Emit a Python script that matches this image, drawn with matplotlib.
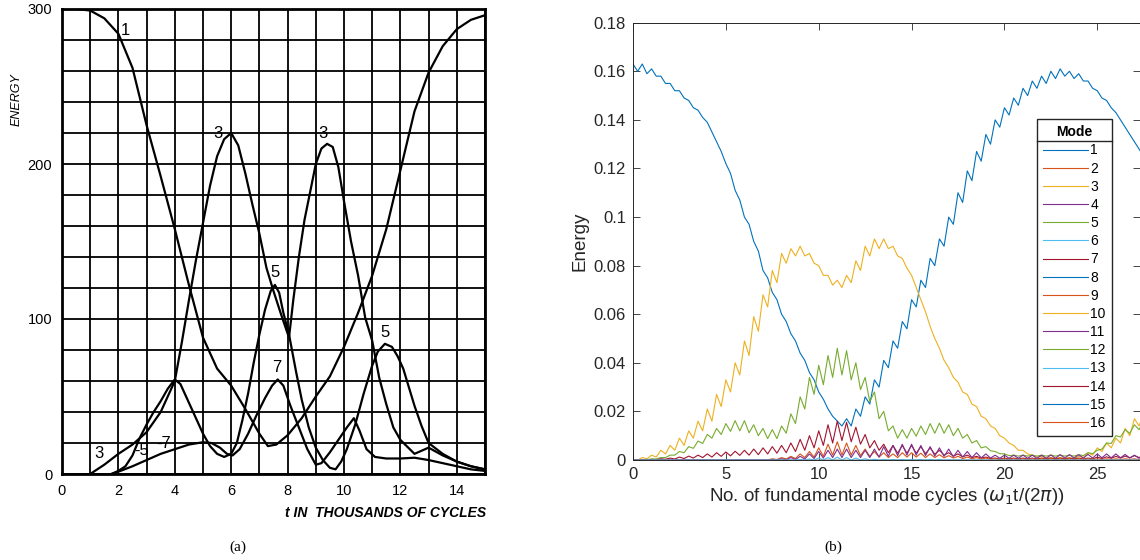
import matplotlib
matplotlib.use('Agg')
import matplotlib.pyplot as plt
from matplotlib.lines import Line2D
from matplotlib.ticker import MultipleLocator, FormatStrFormatter
import numpy as np

plt.rcParams['font.family'] = ['Liberation Sans', 'DejaVu Sans']

# ---------------- panel (a): scanned FPU curves ----------------
mode1_t = [0, 0.5, 1.0, 1.5, 2.0, 2.5, 3.0, 3.5, 4.0, 4.5, 5.0, 5.5, 6.0, 6.5, 7.0, 7.3, 7.6,
           8.0, 8.5, 9.0, 9.5, 10.0, 10.5, 11.0, 11.5, 12.0, 12.5, 13.0, 13.5, 14.0, 14.5, 15.0]
mode1_e = [300, 300, 299, 294, 284, 262, 225, 192, 158, 122, 88, 68, 57, 42, 26, 18, 19,
           25, 36, 50, 63, 82, 104, 128, 158, 196, 234, 259, 276, 287, 293, 296]

mode3_t = [1.0, 1.5, 2.0, 2.5, 2.75, 3.0, 3.5, 4.0, 4.25, 4.5, 4.75, 5.0, 5.25, 5.5, 5.75, 6.0,
           6.25, 6.5, 6.75, 7.0, 7.25, 7.5, 7.75, 8.05, 8.2, 8.4, 8.6, 8.8, 9.0, 9.2, 9.4, 9.6,
           9.8, 10.0, 10.25, 10.5, 10.75, 11.0, 11.25, 11.5, 11.75, 12.0, 12.5, 13.0, 13.5,
           14.0, 14.5, 15.0]
mode3_e = [0, 6, 13, 19, 23, 27, 40, 60, 85, 112, 138, 162, 186, 205, 216, 220,
           212, 194, 174, 155, 133, 118, 104, 88, 112, 140, 164, 182, 200, 210, 213, 211,
           198, 176, 150, 128, 101, 86, 62, 45, 30, 22, 13, 17, 12,
           8, 5, 3]

mode5_t = [1.75, 2.0, 2.25, 2.5, 2.75, 3.0, 3.25, 3.5, 3.75, 4.0, 4.2, 4.5, 4.75, 5.0, 5.25,
           5.5, 5.75, 6.0, 6.2, 6.4, 6.6, 6.8, 7.0, 7.2, 7.4, 7.55, 7.7, 7.85, 8.05, 8.3,
           8.5, 8.75, 9.0, 9.25, 9.5, 9.7, 9.9, 10.1, 10.4, 10.7, 11.0, 11.2, 11.45, 11.7,
           11.9, 12.1, 12.3, 12.5, 12.75, 13.0, 13.5, 14.0, 14.5, 15.0]
mode5_e = [0, 2, 5, 12, 23, 32, 40, 47, 55, 61, 58, 46, 36, 26, 18,
           13, 11, 13, 20, 35, 52, 72, 90, 106, 118, 122, 117, 104, 90, 66,
           48, 30, 17, 9, 4, 3, 8, 16, 32, 52, 70, 79, 84, 82,
           76, 68, 56, 44, 31, 20, 13, 8, 5, 3]

mode7_t = [1.75, 2.0, 2.5, 3.0, 3.5, 4.0, 4.5, 5.0, 5.3, 5.6, 5.85, 6.05, 6.3, 6.6, 6.9, 7.2,
           7.45, 7.65, 7.85, 8.1, 8.4, 8.7, 9.0, 9.2, 9.5, 9.8, 10.1, 10.35, 10.55, 10.8, 11.1,
           11.5, 12.0, 12.5, 13.0, 13.5, 14.0, 14.5, 15.0]
mode7_e = [0, 1.5, 5, 9, 13, 16, 19, 20.5, 20, 17, 13, 12, 16, 26, 38, 49,
           57, 61, 57, 44, 30, 16, 6, 7, 14, 22, 30, 36, 28, 16, 11,
           10, 10, 10.5, 9, 7, 5, 3, 2]

labels_a = [('1', 2.25, 286), ('3', 5.53, 220), ('3', 9.25, 220), ('5', 7.57, 130),
            ('5', 11.47, 91), ('7', 7.63, 69), ('3', 1.31, 13.5), ('-5', 2.82, 15),
            ('-7', 3.6, 19.5)]

# ---------------- panel (b): simulated mode energies ----------------
t_b = np.arange(0, 28, 0.5)
# top and bottom of each wiggly band, read every half cycle
mode1_hi = [0.163, 0.163, 0.161, 0.158, 0.155, 0.152, 0.148, 0.144, 0.139, 0.131, 0.122, 0.111,
            0.100, 0.090, 0.078, 0.069, 0.060, 0.052, 0.044, 0.036, 0.028, 0.021, 0.016, 0.017,
            0.021, 0.026, 0.033, 0.041, 0.049, 0.057, 0.066, 0.074, 0.083, 0.091, 0.100, 0.110,
            0.119, 0.127, 0.134, 0.140, 0.145, 0.149, 0.153, 0.156, 0.158, 0.160, 0.161, 0.160,
            0.159, 0.156, 0.152, 0.148, 0.143, 0.137, 0.131, 0.125]
mode1_lo = [0.160, 0.159, 0.158, 0.155, 0.152, 0.149, 0.145, 0.141, 0.135, 0.127, 0.118, 0.107,
            0.097, 0.086, 0.075, 0.066, 0.057, 0.049, 0.041, 0.033, 0.025, 0.018, 0.014, 0.014,
            0.018, 0.023, 0.030, 0.038, 0.046, 0.054, 0.063, 0.071, 0.080, 0.088, 0.097, 0.106,
            0.115, 0.123, 0.130, 0.137, 0.142, 0.146, 0.150, 0.153, 0.155, 0.157, 0.158, 0.157,
            0.156, 0.153, 0.149, 0.145, 0.140, 0.134, 0.128, 0.122]
mode3_hi = [0.0, 0.001, 0.002, 0.004, 0.006, 0.009, 0.012, 0.016, 0.021, 0.027, 0.033, 0.040,
            0.049, 0.059, 0.068, 0.078, 0.085, 0.087, 0.088, 0.085, 0.080, 0.076, 0.074, 0.076,
            0.082, 0.088, 0.091, 0.091, 0.088, 0.083, 0.076, 0.066, 0.055, 0.046, 0.038, 0.032,
            0.027, 0.022, 0.017, 0.013, 0.009, 0.006, 0.004, 0.002, 0.0015, 0.001, 0.001, 0.001,
            0.0015, 0.003, 0.005, 0.007, 0.009, 0.013, 0.017, 0.019]
mode3_lo = [0.0, 0.0005, 0.0012, 0.0025, 0.004, 0.006, 0.009, 0.012, 0.016, 0.022, 0.028, 0.035,
            0.043, 0.053, 0.063, 0.073, 0.081, 0.084, 0.084, 0.081, 0.076, 0.072, 0.071, 0.073,
            0.078, 0.084, 0.087, 0.087, 0.084, 0.079, 0.071, 0.061, 0.050, 0.041, 0.034, 0.028,
            0.023, 0.018, 0.014, 0.010, 0.007, 0.004, 0.0025, 0.0012, 0.0008, 0.0006, 0.0006, 0.0006,
            0.001, 0.002, 0.0035, 0.005, 0.007, 0.010, 0.014, 0.016]
mode5_hi = [0, 0.0002, 0.0005, 0.001, 0.002, 0.0035, 0.0055, 0.0078, 0.0105, 0.013, 0.015, 0.0162,
            0.0162, 0.0145, 0.013, 0.0125, 0.014, 0.019, 0.026, 0.034, 0.039, 0.043, 0.046, 0.045,
            0.040, 0.034, 0.028, 0.020, 0.014, 0.0125, 0.013, 0.014, 0.015, 0.0152, 0.0145, 0.013,
            0.0105, 0.008, 0.0055, 0.0035, 0.0025, 0.002, 0.002, 0.002, 0.002, 0.002, 0.002, 0.002,
            0.0022, 0.003, 0.004, 0.007, 0.010, 0.0125, 0.0145, 0.016]
mode5_lo = [0, 0.0001, 0.0004, 0.001, 0.002, 0.003, 0.0048, 0.0068, 0.009, 0.0105, 0.0118, 0.012,
            0.0112, 0.010, 0.0088, 0.0088, 0.011, 0.015, 0.021, 0.027, 0.031, 0.034, 0.035, 0.033,
            0.029, 0.024, 0.017, 0.012, 0.009, 0.009, 0.0098, 0.0105, 0.011, 0.011, 0.010, 0.009,
            0.007, 0.005, 0.0038, 0.0026, 0.0018, 0.0016, 0.0016, 0.0016, 0.0016, 0.0016, 0.0016, 0.0016,
            0.0018, 0.0026, 0.0045, 0.0068, 0.0095, 0.011, 0.0125, 0.014]
mode7_hi = [0, 0, 0.0002, 0.0005, 0.0008, 0.0012, 0.0016, 0.002, 0.0025, 0.003, 0.0033, 0.0036,
            0.004, 0.0045, 0.005, 0.0055, 0.006, 0.007, 0.0085, 0.010, 0.012, 0.0145, 0.016, 0.0155,
            0.0135, 0.0105, 0.008, 0.0065, 0.006, 0.006, 0.006, 0.0055, 0.005, 0.004, 0.003, 0.0025,
            0.002, 0.0015, 0.0012, 0.0008, 0.0008, 0.0008, 0.0008, 0.0008, 0.0008, 0.0008, 0.0008, 0.0008,
            0.0008, 0.0008, 0.0012, 0.0013, 0.0015, 0.0016, 0.0018, 0.002]
mode7_lo = [0, 0, 0.0001, 0.0003, 0.0004, 0.0006, 0.0008, 0.001, 0.0012, 0.0015, 0.0017, 0.0019,
            0.002, 0.0022, 0.0025, 0.0028, 0.003, 0.0035, 0.004, 0.005, 0.006, 0.007, 0.008, 0.0075,
            0.0065, 0.005, 0.004, 0.003, 0.0028, 0.0028, 0.0028, 0.0026, 0.0024, 0.002, 0.0016, 0.0013,
            0.001, 0.0008, 0.0006, 0.0004, 0.0004, 0.0004, 0.0004, 0.0004, 0.0004, 0.0004, 0.0004, 0.0004,
            0.0004, 0.0004, 0.0006, 0.0007, 0.0008, 0.0009, 0.001, 0.001]
mode9_hi = [0, 0, 0, 0, 0, 0, 0, 0, 0, 0, 0, 0,
            0, 0, 0, 0.0005, 0.001, 0.0015, 0.0025, 0.0035, 0.005, 0.0065, 0.0075, 0.007,
            0.006, 0.0045, 0.0035, 0.003, 0.0025, 0.003, 0.003, 0.0028, 0.0025, 0.0022, 0.0018, 0.0015,
            0.0012, 0.001, 0.0008, 0.0006, 0.0005, 0.0005, 0.0005, 0.0005, 0.0005, 0.0005, 0.0005, 0.0005,
            0.0005, 0.0005, 0.0005, 0.0005, 0.0005, 0.0005, 0.0005, 0.0005]
mode9_lo = [0, 0, 0, 0, 0, 0, 0, 0, 0, 0, 0, 0,
            0, 0, 0, 0.0002, 0.0004, 0.0006, 0.001, 0.0012, 0.0015, 0.002, 0.002, 0.002,
            0.0018, 0.0015, 0.0012, 0.001, 0.001, 0.0012, 0.0012, 0.001, 0.001, 0.0009, 0.0008, 0.0006,
            0.0005, 0.0004, 0.0003, 0.0002, 0.0002, 0.0002, 0.0002, 0.0002, 0.0002, 0.0002, 0.0002, 0.0002,
            0.0002, 0.0002, 0.0002, 0.0002, 0.0002, 0.0002, 0.0002, 0.0002]
mode11_hi = [0, 0, 0, 0, 0, 0, 0, 0, 0, 0, 0, 0,
             0, 0, 0, 0.0002, 0.0005, 0.001, 0.0015, 0.0025, 0.0035, 0.004, 0.0045, 0.0045,
             0.004, 0.004, 0.0045, 0.0055, 0.006, 0.0065, 0.0065, 0.006, 0.0055, 0.005, 0.0045, 0.004,
             0.0035, 0.003, 0.0025, 0.002, 0.002, 0.002, 0.002, 0.002, 0.002, 0.0021, 0.0022, 0.0022,
             0.0022, 0.0023, 0.0025, 0.0025, 0.0025, 0.0023, 0.002, 0.002]
mode11_lo = [0, 0, 0, 0, 0, 0, 0, 0, 0, 0, 0, 0,
             0, 0, 0, 0, 0.0001, 0.0002, 0.0004, 0.0006, 0.0008, 0.001, 0.001, 0.001,
             0.001, 0.001, 0.0012, 0.0015, 0.0018, 0.002, 0.002, 0.0018, 0.0016, 0.0015, 0.0013, 0.0012,
             0.001, 0.0009, 0.0008, 0.0007, 0.0007, 0.0007, 0.0007, 0.0007, 0.0007, 0.0007, 0.0008, 0.0008,
             0.0008, 0.0008, 0.0009, 0.0009, 0.0009, 0.0008, 0.0007, 0.0007]
mode13_hi = [0, 0, 0, 0, 0, 0, 0, 0, 0, 0, 0, 0,
             0, 0, 0, 0, 0, 0, 0.0002, 0.0004, 0.0008, 0.001, 0.0012, 0.001,
             0.0008, 0.0005, 0.0003, 0.0002, 0.0002, 0.0002, 0.0002, 0.0002, 0.0002, 0.0002, 0.0001, 0.0001,
             0, 0, 0, 0, 0, 0, 0, 0, 0, 0, 0, 0,
             0, 0, 0, 0, 0, 0, 0, 0]
zero_mode = [0.0] * 56

matlab_colors = ['#0072BD', '#D95319', '#EDB120', '#7E2F8E', '#77AC30', '#4DBEEE', '#A2142F']
mode_names = [str(k) for k in range(1, 17)]
bands = {1: (mode1_hi, mode1_lo), 3: (mode3_hi, mode3_lo), 5: (mode5_hi, mode5_lo),
         7: (mode7_hi, mode7_lo), 9: (mode9_hi, mode9_lo), 11: (mode11_hi, mode11_lo),
         13: (mode13_hi, zero_mode)}


def zigzag(hi, lo):
    xs = np.ravel(np.column_stack([t_b, t_b + 0.25]))
    ys = np.ravel(np.column_stack([hi, lo]))
    return xs, ys


fig = plt.figure(figsize=(11.4, 5.6), dpi=100)

# ---- panel (a)
axa = fig.add_axes([62 / 1140, 1 - 474 / 560, 423 / 1140, 465 / 560])
axa.set_xlim(0, 15)
axa.set_ylim(0, 300)
axa.xaxis.set_major_locator(MultipleLocator(2))
axa.xaxis.set_minor_locator(MultipleLocator(1))
axa.yaxis.set_major_locator(MultipleLocator(100))
axa.yaxis.set_minor_locator(MultipleLocator(20))
axa.grid(True, which='both', color='black', lw=1.3)
axa.set_axisbelow(True)
axa.tick_params(which='both', length=0, labelsize=10.5, pad=7)
for s in axa.spines.values():
    s.set_linewidth(2)
for tt, ee in [(mode1_t, mode1_e), (mode3_t, mode3_e), (mode5_t, mode5_e), (mode7_t, mode7_e)]:
    axa.plot(tt, ee, color='black', lw=1.6, solid_joinstyle='round')
for txt, xx, yy in labels_a:
    axa.text(xx, yy, txt, fontsize=12, ha='center', va='center', zorder=5)
fig.text(17 / 1140, 1 - 100 / 560, 'ENERGY', rotation=90, style='italic', fontsize=9,
         ha='center', va='center')
fig.text(386 / 1140, 1 - 513 / 560, 't IN  THOUSANDS OF CYCLES', style='italic',
         fontweight='bold', fontsize=10, ha='center', va='center')
fig.text(238 / 1140, 1 - 547 / 560, '(a)', family='Liberation Serif', fontsize=11,
         ha='center', va='center')

# ---- panel (b)
axb = fig.add_axes([633 / 1140, 1 - 460 / 560, 507 / 1140, 437.3 / 560])
handles = []
for k in range(1, 17):
    col = matlab_colors[(k - 1) % 7]
    if k in bands:
        xs, ys = zigzag(*bands[k])
    else:
        xs, ys = t_b, zero_mode
    h, = axb.plot(xs, ys, color=col, lw=0.8)
    handles.append(h)

axb.set_xlim(0, 27.3)
axb.set_ylim(0, 0.18)
axb.xaxis.set_major_locator(MultipleLocator(5))
axb.yaxis.set_major_locator(MultipleLocator(0.02))
axb.yaxis.set_major_formatter(FormatStrFormatter('%g'))
axb.tick_params(direction='in', top=True, right=True, length=5, width=0.6,
                labelsize=12, colors='#262626', pad=5)
for s in axb.spines.values():
    s.set_linewidth(0.7)
    s.set_color('#262626')
axb.set_ylabel('Energy', fontsize=13.5, color='#262626', labelpad=4)
axb.set_xlabel(r'No. of fundamental mode cycles ($\omega_1$t/(2$\pi$))', fontsize=13.5,
               color='#262626', labelpad=3)

leg = axb.legend(handles, mode_names, title='Mode', loc='upper left',
                 bbox_to_anchor=(1037 / 1140, 1 - 119 / 560), bbox_transform=fig.transFigure,
                 borderaxespad=0, fontsize=10, labelspacing=0.3, handlelength=3.2,
                 handletextpad=0.2, borderpad=0.45, fancybox=False, framealpha=1,
                 edgecolor='#262626', title_fontproperties={'weight': 'bold', 'size': 10})
leg.get_frame().set_linewidth(1.0)

fig.text(833 / 1140, 1 - 547 / 560, '(b)', family='Liberation Serif', fontsize=11,
         ha='center', va='center')

# separator under the legend title
fig.canvas.draw()
r = fig.canvas.get_renderer()
fb = leg.get_frame().get_window_extent(r)
tb = leg.get_title().get_window_extent(r)
first = leg.get_texts()[0].get_window_extent(r)
ysep = (tb.y0 + first.y1) / 2 / fig.bbox.height
fig.add_artist(Line2D([fb.x0 / fig.bbox.width, fb.x1 / fig.bbox.width], [ysep, ysep],
                      color='#262626', lw=1.0, transform=fig.transFigure))

fig.savefig('out.png', dpi=100)
